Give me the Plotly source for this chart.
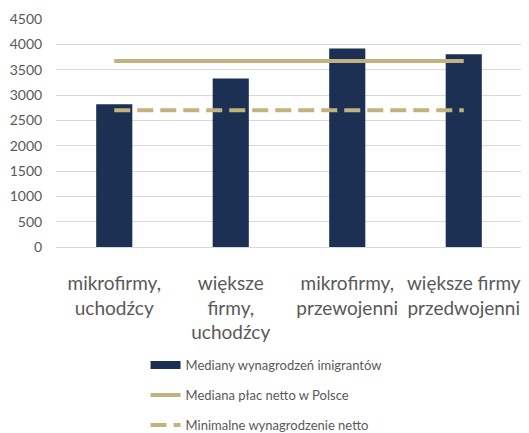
import plotly.graph_objects as go

categories = ["mikrofirmy,<br>uchodźcy", "większe<br>firmy,<br>uchodźcy",
              "mikrofirmy,<br>przewojenni", "większe firmy<br>przedwojenni"]
median_imigrants = [2815, 3325, 3920, 3805]
median_poland = [3670, 3670, 3670, 3670]
minimal_wage = [2700, 2700, 2700, 2700]
y_ticks = [0, 500, 1000, 1500, 2000, 2500, 3000, 3500, 4000, 4500]

navy = "#1b3052"
tan = "#c2b280"
gray = "#595959"

fig = go.Figure()
fig.add_trace(go.Bar(x=categories, y=median_imigrants, name="Mediany wynagrodzeń imigrantów",
                     marker=dict(color=navy, line=dict(width=0)), showlegend=False))
# legend-only entry showing the bar series as a wide rectangle
fig.add_trace(go.Scatter(x=[None], y=[None], mode="lines", name="Mediany wynagrodzeń imigrantów",
                         line=dict(color=navy, width=8), legendgroup="a"))
fig.add_trace(go.Scatter(x=categories, y=median_poland, mode="lines", name="Mediana płac netto w Polsce",
                         line=dict(color=tan, width=4), legendgroup="b"))
fig.add_trace(go.Scatter(x=categories, y=minimal_wage, mode="lines", name="Minimalne wynagrodzenie netto",
                         line=dict(color=tan, width=4, dash="16px,7px"), legendgroup="c"))

fig.update_layout(
    width=521, height=425,
    margin=dict(l=48, r=7, t=11, b=186, autoexpand=False),
    paper_bgcolor="white", plot_bgcolor="white",
    font=dict(family="Lato", color=gray),
    bargap=0.69,
    showlegend=True,
    legend=dict(orientation="v", xref="container", yref="container", x=0.264, xanchor="left",
                y=0.195, yanchor="top", font=dict(size=13, color=gray), tracegroupgap=10,
                bgcolor="rgba(0,0,0,0)"),
)
fig.update_xaxes(tickfont=dict(size=19, color=gray), tickangle=0, showgrid=False, showline=False,
                 ticks="", ticklabelstandoff=23)
fig.update_yaxes(range=[0, 4500], tickvals=y_ticks, tickfont=dict(size=14, color=gray),
                 showgrid=True, gridcolor="#d9d9d9", gridwidth=1, zeroline=True,
                 zerolinecolor="#d9d9d9", zerolinewidth=1,
                 ticks="outside", ticklen=10, tickcolor="rgba(0,0,0,0)")

fig.write_html("out.html")
